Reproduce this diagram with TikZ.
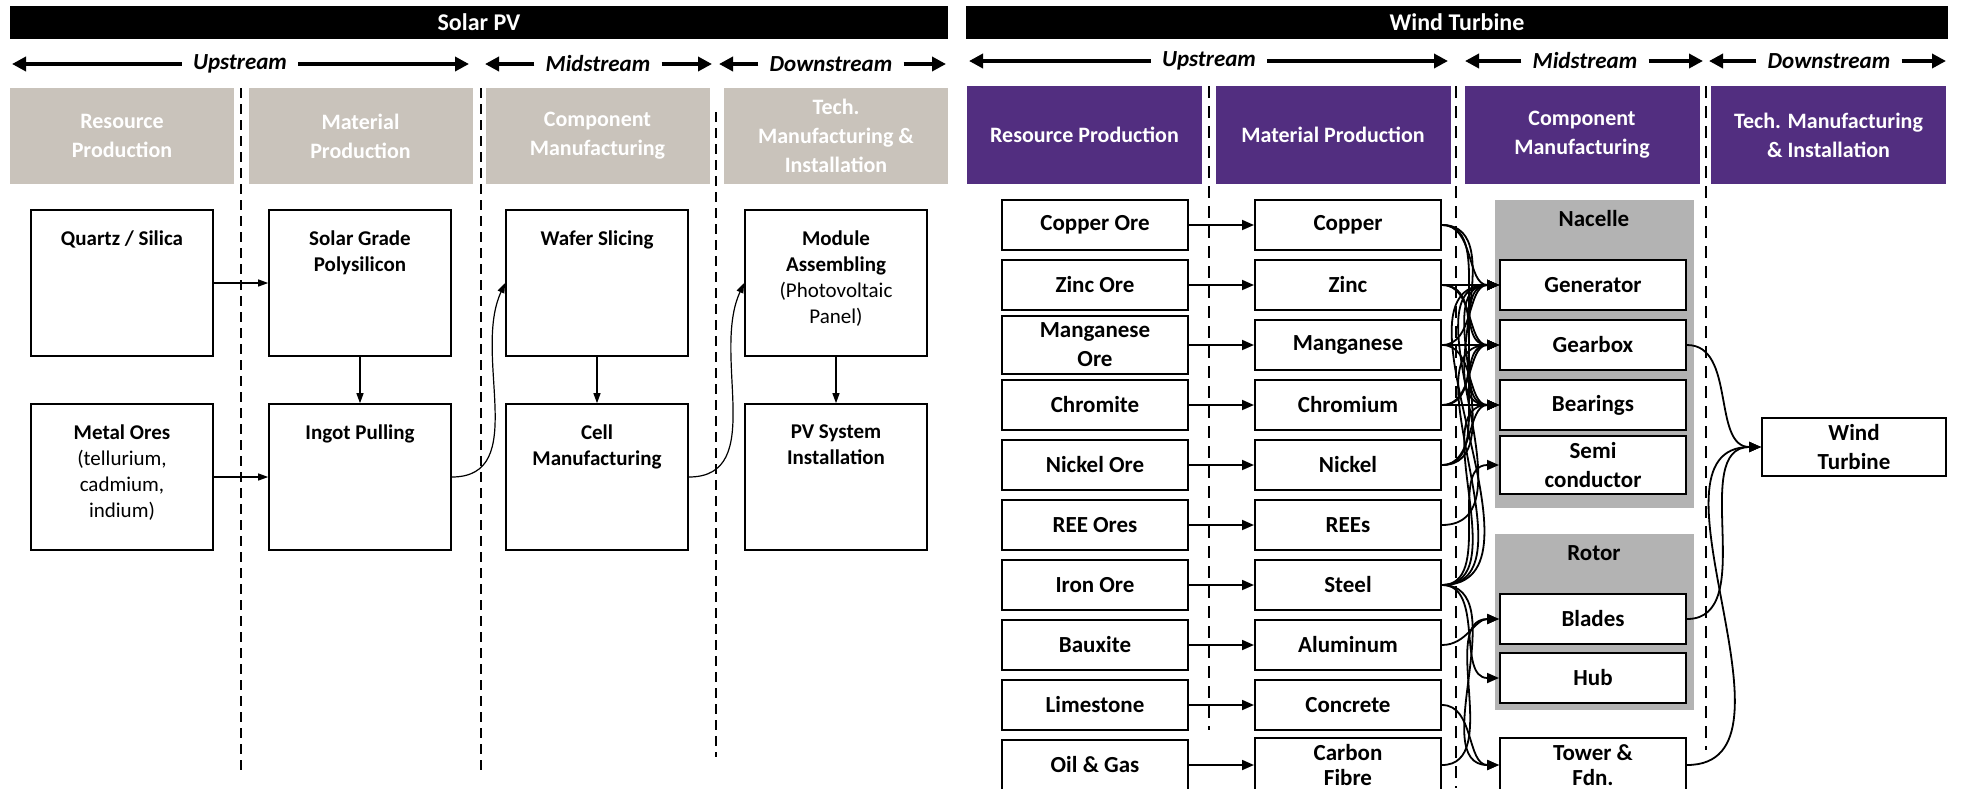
\documentclass[tikz,border=0pt]{standalone}
\usepackage{fontspec}
\setmainfont{Carlito}
\usetikzlibrary{arrows.meta}

\definecolor{pvgrey}{RGB}{201,195,187}
\definecolor{wtpurple}{RGB}{82,46,128}
\definecolor{groupgrey}{RGB}{179,179,179}

\tikzset{
  titlebar/.style={fill=black, text=white, minimum height=16.5pt, inner sep=0pt,
    font=\bfseries\fontsize{12}{14}\selectfont},
  streamlabel/.style={inner xsep=5.5pt, font=\bfseries\itshape\fontsize{11.5}{14}\selectfont},
  streamarrow/.style={-{Triangle[length=7pt,width=7pt]}, line width=1.8pt},
  pvhead/.style={fill=pvgrey, text=white, minimum width=112pt, minimum height=48pt,
    align=center, font=\bfseries\fontsize{11}{14.5}\selectfont},
  wthead/.style={fill=wtpurple, text=white, minimum width=117.5pt, minimum height=49pt,
    align=center, font=\bfseries\fontsize{11}{14.5}\selectfont},
  pvbox/.style={draw, line width=0.8pt, minimum width=91pt, minimum height=73pt},
  pvtext/.style={anchor=north, yshift=-7pt, align=center, font=\fontsize{10.5}{13}\selectfont},
  pvarrow/.style={-{Triangle[length=5pt,width=3.5pt]}, line width=0.6pt},
  pvdash/.style={dash pattern=on 5pt off 3pt, line width=0.6pt},
  wtbox/.style={draw, fill=white, line width=1pt, minimum width=93pt, minimum height=25pt,
    align=center, font=\bfseries\fontsize{11.5}{14.5}\selectfont},
  wtarrow/.style={-{Triangle[length=6pt,width=5pt]}, line width=0.9pt},
  wtdash/.style={dash pattern=on 6pt off 4pt, line width=1.1pt},
  grouplabel/.style={font=\bfseries\fontsize{11.5}{14}\selectfont}
}

\begin{document}
\begin{tikzpicture}[x=0.5pt,y=-0.5pt]
\useasboundingbox (0,0) rectangle (1961,788);

% ---------------- Solar PV ----------------
\node[titlebar, minimum width=469pt] (pvtitle) at (479,22.5) {Solar PV};

\node[streamlabel] (pvup) at (240,64) {Upstream};
\node[streamlabel] (pvmid) at (598,64) {Midstream};
\node[streamlabel] (pvdown) at (831,64) {Downstream};
\coordinate (pvupl) at (12,64);
\coordinate (pvupr) at (469,64);
\coordinate (pvmidl) at (485,64);
\coordinate (pvmidr) at (712,64);
\coordinate (pvdownl) at (719,64);
\coordinate (pvdownr) at (946,64);
\draw[streamarrow] (pvup.west) -- (pvupl);
\draw[streamarrow] (pvup.east) -- (pvupr);
\draw[streamarrow] (pvmid.west) -- (pvmidl);
\draw[streamarrow] (pvmid.east) -- (pvmidr);
\draw[streamarrow] (pvdown.west) -- (pvdownl);
\draw[streamarrow] (pvdown.east) -- (pvdownr);

\node[pvhead] (pvres) at (122,136) {Resource\\Production};
\node[pvhead] (pvmat) at (360.5,136) {Material\\Production};
\node[pvhead] (pvcomp) at (597.5,136) {Component\\Manufacturing};
\node[pvhead] (pvtech) at (836,136) {Tech.\\Manufacturing \&\\Installation};

% dividers
\draw[pvdash] (241,88) -- (241,770);
\draw[pvdash] (481,88) -- (481,770);
\draw[pvdash] (716,112) -- (716,757);

\node[pvbox] (quartz) at (122,283) {};
\node[pvbox] (metal) at (122,477) {};
\node[pvbox] (poly) at (360,283) {};
\node[pvbox] (ingot) at (360,477) {};
\node[pvbox] (wafer) at (597,283) {};
\node[pvbox] (cell) at (597,477) {};
\node[pvbox] (module) at (836,283) {};
\node[pvbox] (pvsys) at (836,477) {};

\node[pvtext] (quartzt) at (quartz.north) {\textbf{Quartz / Silica}};
\node[pvtext] (metalt) at (metal.north) {\textbf{Metal Ores}\\(tellurium,\\cadmium,\\indium)};
\node[pvtext] (polyt) at (poly.north) {\textbf{Solar Grade}\\\textbf{Polysilicon}};
\node[pvtext] (ingott) at (ingot.north) {\textbf{Ingot Pulling}};
\node[pvtext] (wafert) at (wafer.north) {\textbf{Wafer Slicing}};
\node[pvtext] (cellt) at (cell.north) {\textbf{Cell}\\\textbf{Manufacturing}};
\node[pvtext] (modulet) at (module.north) {\textbf{Module}\\\textbf{Assembling}\\(Photovoltaic\\Panel)};
\node[pvtext] (pvsyst) at (pvsys.north) {\textbf{PV System}\\\textbf{Installation}};

\draw[pvarrow] (quartz) -- (poly);
\draw[pvarrow] (metal) -- (ingot);
\draw[pvarrow] (poly) -- (ingot);
\draw[pvarrow] (ingot.east) to[out=0,in=-115] (wafer.west);
\draw[pvarrow] (wafer) -- (cell);
\draw[pvarrow] (cell.east) to[out=0,in=-115] (module.west);
\draw[pvarrow] (module) -- (pvsys);

% ---------------- Wind Turbine ----------------
\node[titlebar, minimum width=491pt] (wttitle) at (1457,22.5) {Wind Turbine};

\node[streamlabel] (wtup) at (1209,61) {Upstream};
\node[streamlabel] (wtmid) at (1585,61) {Midstream};
\node[streamlabel] (wtdown) at (1829,61) {Downstream};
\coordinate (wtupl) at (969,61);
\coordinate (wtupr) at (1448,61);
\coordinate (wtmidl) at (1465,61);
\coordinate (wtmidr) at (1703,61);
\coordinate (wtdownl) at (1709,61);
\coordinate (wtdownr) at (1946,61);
\draw[streamarrow] (wtup.west) -- (wtupl);
\draw[streamarrow] (wtup.east) -- (wtupr);
\draw[streamarrow] (wtmid.west) -- (wtmidl);
\draw[streamarrow] (wtmid.east) -- (wtmidr);
\draw[streamarrow] (wtdown.west) -- (wtdownl);
\draw[streamarrow] (wtdown.east) -- (wtdownr);

\node[wthead] (wtres) at (1084.5,135) {Resource Production};
\node[wthead] (wtmat) at (1333,135) {Material Production};
\node[wthead] (wtcomp) at (1582,135) {Component\\Manufacturing};
\node[wthead] (wttech) at (1828.5,135) {Tech. Manufacturing\\\& Installation};

% dividers
\draw[wtdash] (1209,86) -- (1209,730);
\draw[wtdash] (1456,86) -- (1456,788);
\draw[wtdash] (1706,86) -- (1706,750);

% component groups
\fill[groupgrey] (1495,200) rectangle (1694,508);
\fill[groupgrey] (1495,534) rectangle (1694,710);
\node[grouplabel] (nacelle) at (1594,219) {Nacelle};
\node[grouplabel] (rotor) at (1594,553) {Rotor};

% resources and materials, one row each
\foreach \ore/\orename/\mat/\matname [count=\i from 0] in {
    cuore/{Copper Ore}/cu/Copper,
    znore/{Zinc Ore}/zn/Zinc,
    mnore/{Manganese\\Ore}/mn/Manganese,
    crore/Chromite/cr/Chromium,
    niore/{Nickel Ore}/ni/Nickel,
    reeore/{REE Ores}/ree/REEs,
    feore/{Iron Ore}/st/Steel,
    bxore/Bauxite/al/Aluminum,
    lsore/Limestone/conc/Concrete,
    ogore/{Oil \& Gas}/cf/{Carbon\\[-2pt]Fibre}} {
  \node[wtbox] (\ore) at (1095,225+60*\i) {\orename};
  \node[wtbox] (\mat) at (1348,225+60*\i) {\matname};
  \draw[wtarrow] (\ore) -- (\mat);
}

\node[wtbox] (gen) at (1593,285) {Generator};
\node[wtbox] (gear) at (1593,345) {Gearbox};
\node[wtbox] (bear) at (1593,405) {Bearings};
\node[wtbox] (semi) at (1593,465) {Semi\\conductor};
\node[wtbox] (blades) at (1593,619) {Blades};
\node[wtbox] (hub) at (1593,678) {Hub};
\node[wtbox] (tower) at (1593,765) {Tower \&\\[-2pt]Fdn.};
\node[wtbox, minimum width=92pt] (turbine) at (1854,447) {Wind\\Turbine};

\foreach \src/\dst in {cu/gen, cu/gear, cu/bear, zn/gen, zn/gear, zn/bear,
    mn/gen, mn/gear, mn/bear, cr/gen, cr/gear, cr/bear, ni/gen, ni/gear, ni/bear,
    ree/gen, st/gen, st/gear, st/bear, st/semi, st/hub, st/tower,
    al/blades, conc/tower, cf/blades}
  \draw[wtarrow] (\src.east) to[out=0,in=180] (\dst.west);

\foreach \src in {gear, blades, tower}
  \draw[wtarrow] (\src.east) to[out=0,in=180] (turbine.west);
\end{tikzpicture}
\end{document}
